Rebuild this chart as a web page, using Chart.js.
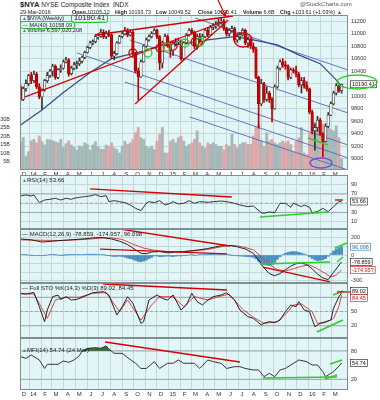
<!DOCTYPE html>
<html>
<head>
<meta charset="utf-8">
<title>$NYA NYSE Composite Index</title>
<script src="https://cdn.jsdelivr.net/npm/chart.js@4.4.1/dist/chart.umd.min.js"></script>
<style>
  html, body { margin: 0; padding: 0; background: #fff; }
  #page { position: relative; width: 380px; height: 400px; overflow: hidden; font-family: "Liberation Sans", Arial, sans-serif; color: #222; }
  canvas { position: absolute; left: 0; }
  .t { position: absolute; white-space: nowrap; font-size: 6px; line-height: 7px; z-index: 5; }
  .r2 { font-size: 5.4px; }
  .t b { font-weight: bold; }
  .box { border: 1.4px solid #2cc52c; border-radius: 3px; }
  .ico { color: #777; font-size: 5px; }
</style>
</head>
<body>
<div id="page">
  <canvas id="cMain" width="380" height="162" style="top:15px"></canvas>
  <canvas id="cRsi" width="380" height="62" style="top:171px"></canvas>
  <canvas id="cMacd" width="380" height="62" style="top:225px"></canvas>
  <canvas id="cSto" width="380" height="63" style="top:279px"></canvas>
  <canvas id="cMfi" width="380" height="64" style="top:334px"></canvas>

  <div class="t" style="left:20px;top:1px;font-size:6.5px"><b style="font-size:7.5px">$NYA</b> NYSE Composite Index &nbsp;INDX</div>
  <div class="t" style="left:300px;top:1px;color:#555">@StockCharts.com</div>
  <div class="t r2" style="left:20px;top:9px">29-Mar-2016</div>
  <div class="t r2" style="left:72px;top:9px"><b>Open</b> 10105.12</div>
  <div class="t r2" style="left:115px;top:9px"><b>High</b> 10193.73</div>
  <div class="t r2" style="left:156px;top:9px"><b>Low</b> 10049.52</div>
  <div class="t r2" style="left:198px;top:9px"><b>Close</b> 10190.41</div>
  <div class="t r2" style="left:243px;top:9px"><b>Volume</b> 6.6B</div>
  <div class="t r2" style="left:280px;top:9px"><b>Chg</b> +103.61 (+1.03%) <span style="color:#2a8a2a">&#9650;</span></div>
  <svg style="position:absolute;left:214px;top:0;z-index:6" width="16" height="18">
    <line x1="4" y1="0" x2="11" y2="15" stroke="#d40000" stroke-width="1.2"/>
    <polyline points="6,11 11,16 13,10" fill="none" stroke="#d40000" stroke-width="1.2"/>
  </svg>

  <div class="t" style="left:22px;top:15px;font-size:5.5px"><span class="ico">&#9650;</span>$NYA (Weekly)</div>
  <div class="t box" style="left:71px;top:13px;font-size:7.5px;line-height:8px;padding:0 2px">10190.41</div>
  <div class="t box" style="left:20px;top:21px;font-size:5.5px;line-height:6px;padding:0 1.5px"><span style="color:#3a4a86">&#8212;</span> MA(40) 10158.09</div>
  <div class="t" style="left:22px;top:27px;font-size:5.5px"><span class="ico">&#9650;</span>Volume 6,597,020,208</div>

  <div class="t" style="left:22px;top:177px"><span class="ico">&#9650;</span>RSI(14) 53.66</div>
  <div class="t" style="left:22px;top:231px"><span>&#8212;</span> MACD(12,26,9) -78.859, -174.957, 96.098</div>
  <div class="t" style="left:22px;top:285px"><span>&#8212;</span> Full STO %K(14,3) %D(3) 89.02, 84.45</div>
  <div class="t" style="left:22px;top:347px"><span class="ico">&#9650;</span>MFI(14) 54.74 (24 Mar)</div>
</div>

<script>
// ---- data (weekly, week 0 = 9 Dec 2013) ----
const monthLabels = ['D','14','F','M','A','M','J','J','A','S','O','N','D','15','F','M','A','M','J','J','A','S','O','N','D','16','F','M'];

const firstOpen = 10150;
const closes = [
  9950, 10120, 10200, 10330, 10250, 10350, 10150, 9990, 10100, 10250,
  10330, 10400, 10480, 10300, 10420, 10450, 10550, 10580, 10360, 10450,
  10500, 10520, 10560, 10620, 10700, 10780, 10850, 10870, 10950, 10960,
  11020, 10950, 11000, 10980, 10640, 10680, 10850, 10950, 11000, 11050,
  10980, 11020, 10680, 10400, 10310, 10550, 10800, 10900, 10950, 11000,
  11050, 10950, 10530, 10850, 10950, 10820, 10720, 10830, 10870, 10880,
  10600, 10850, 10980, 11050, 11020, 10800, 10950, 10880, 10950, 11050,
  10980, 11100, 11120, 11150, 11180, 11200, 11080, 11000, 11050, 11080,
  10900, 10950, 10980, 11050, 10850, 10900, 10800, 10750, 10300, 9880,
  10200, 9950, 10050, 9950, 9800, 10150, 10450, 10550, 10500, 10480,
  10300, 10420, 10400, 10350, 10180, 10250, 10170, 10120, 9750, 9450,
  9500, 9620, 9400, 9280, 9520, 9700, 9880, 10050, 10170, 10090,
  10190.41
];
const highs = [
  10180, 10150, 10260, 10350, 10380, 10400, 10380, 10200, 10120, 10270,
  10380, 10430, 10510, 10500, 10440, 10500, 10580, 10620, 10600, 10480,
  10540, 10560, 10610, 10640, 10720, 10800, 10880, 10900, 10980, 11000,
  11070, 11060, 11040, 11050, 11000, 10720, 10870, 10970, 11030, 11100,
  11080, 11060, 11040, 10700, 10450, 10580, 10820, 10930, 10980, 11030,
  11080, 11070, 10970, 10880, 10990, 10980, 10850, 10870, 10920, 10930,
  10900, 10870, 11000, 11080, 11080, 11040, 10990, 11000, 10990, 11080,
  11100, 11130, 11160, 11190, 11230, 11250, 11230, 11100, 11080, 11120,
  11100, 11000, 11020, 11080, 11070, 10940, 10930, 10850, 10780, 10320,
  10270, 10220, 10150, 10080, 9980, 10180, 10480, 10580, 10600, 10560,
  10500, 10450, 10450, 10480, 10380, 10300, 10300, 10230, 10130, 9780,
  9560, 9680, 9650, 9420, 9560, 9740, 9910, 10080, 10200, 10180,
  10193.73
];
const lows = [
  9920, 9930, 10080, 10170, 10200, 10220, 10120, 9960, 9790, 10080,
  10220, 10300, 10320, 10270, 10280, 10380, 10430, 10530, 10320, 10340,
  10420, 10440, 10490, 10530, 10600, 10690, 10760, 10820, 10850, 10910,
  10940, 10920, 10920, 10950, 10600, 10580, 10660, 10840, 10930, 10980,
  10950, 10960, 10650, 10370, 9940, 10300, 10540, 10780, 10880, 10930,
  10990, 10920, 10420, 10450, 10830, 10780, 10620, 10650, 10800, 10820,
  10570, 10580, 10830, 10960, 10990, 10760, 10750, 10850, 10850, 10930,
  10950, 10970, 11060, 11080, 11120, 11150, 11050, 10960, 10960, 11020,
  10870, 10860, 10900, 10960, 10820, 10780, 10760, 10700, 10280, 9490,
  9850, 9900, 9920, 9900, 9590, 9790, 10130, 10420, 10460, 10430,
  10260, 10280, 10370, 10310, 10150, 10050, 10130, 10080, 9720, 9400,
  9140, 9440, 9380, 9030, 9270, 9500, 9690, 9860, 10020, 10060,
  10049.52
];
// volume in billions
const volume = [
  16.6, 19.2, 8.2, 10.8, 17.2, 18, 16, 20, 16.6, 14.7,
  18, 17.6, 17.2, 16.6, 16, 18, 13.3, 15.5, 17.2, 14.7,
  13.3, 11.8, 14.1, 14, 16, 15, 11.8, 14.7, 16.6, 13.7,
  12.2, 12.2, 14.7, 14, 16, 13, 12, 10, 14, 17,
  15, 16, 18, 22, 25, 19, 18, 14, 13, 14,
  12, 17, 21, 25, 10, 10, 17, 18, 16, 19,
  20, 17, 14, 15, 16, 18, 23, 16, 14, 13,
  16, 15, 16, 15, 14, 14, 12, 15, 14, 21,
  15, 13, 15, 16, 16, 15, 15, 20, 25, 27,
  17, 14, 22, 17, 18, 16, 15, 16, 17, 16,
  17, 15, 11, 17, 19, 25, 10, 9, 22, 25,
  28, 23, 24, 27, 22, 25, 24, 23, 26, 19,
  6.6
];
const maWeeks = [0, 8, 16, 26, 34, 44, 52, 60, 70, 80, 87, 96, 104, 112, 118, 120];
const maValues = [9540, 9780, 10060, 10380, 10600, 10700, 10800, 10830, 10900, 10950, 10900, 10820, 10660, 10520, 10260, 10158.09];

const rsiWeeks = [0,2,4,5,7,9,11,13,15,17,19,20,22,24,26,28,30,32,33,35,37,39,41,43,45,47,48,50,52,54,56,57,59,61,63,65,67,70,72,75,77,80,82,85,87,90,91,93,95,97,99,101,102,105,106,108,109,111,113,115,117,119,120];
const rsiValues = [65.7,67.8,65.7,67.8,51.3,57,58.5,60.6,57,60.6,58.5,60.6,62.8,64.2,65.7,68.6,64.2,66.4,53.4,55.6,53.4,51.3,46.2,39,34,49.8,53.4,51.3,55.6,46.2,49.8,53.4,48.4,49.8,55.6,49.8,53.4,52,53.4,54.8,53.4,49.8,46.2,42.6,44.1,29.6,28.2,31.1,29.6,49.8,49.8,41.2,49.8,42.6,46.2,41.2,29.6,31.8,39,31.8,42.6,53.4,53.66];

const macdWeeks = [0,4,8,12,16,20,24,28,31,34,37,40,43,45,47,49,52,55,58,61,64,67,70,73,76,78,81,84,87,89,91,93,95,97,99,101,103,105,107,109,111,113,115,117,119,120];
const macdValues = [185,175,150,160,170,178,188,200,202,185,160,120,60,20,15,35,40,25,35,40,50,60,75,95,112,110,95,70,20,-60,-150,-215,-240,-215,-170,-130,-100,-95,-110,-160,-220,-265,-285,-200,-120,-78.859];
const signalWeeks = [0,8,16,24,30,34,38,42,46,50,55,60,65,70,75,79,83,87,90,93,96,99,102,105,108,111,114,116,118,120];
const signalValues = [175,170,168,180,195,197,180,125,80,55,40,38,48,65,95,112,95,60,-20,-110,-170,-185,-160,-130,-115,-160,-215,-255,-230,-174.957];
const macdHist = [
  5, 4, 2, 0, -2, -4, -6, -8, -6, -3,
  0, 3, 4, 2, 0, -2, -1, 1, 2, 3,
  3, 4, 5, 6, 8, 9, 10, 10, 9, 8,
  6, 3, -2, -8, -14, -18, -16, -14, -18, -25,
  -35, -42, -50, -62, -75, -78, -70, -58, -42, -28,
  -10, -12, -20, -18, -15, -12, -15, -18, -14, -10,
  -12, -8, -4, 0, 2, -2, 0, 4, 6, 8,
  10, 12, 15, 17, 18, 14, 10, 6, 2, -2,
  -6, -10, -12, -14, -18, -20, -22, -28, -45, -75,
  -95, -110, -118, -120, -110, -85, -50, -20, 5, 20,
  30, 38, 40, 38, 30, 22, 12, 0, -20, -40,
  -55, -65, -62, -55, -40, -15, 15, 45, 70, 85,
  96.098
];

const stoKWeeks = [0,2,5,7,9,10,12,14,15,17,19,21,23,25,27,31,33,36,38,40,42,45,46,48,51,53,55,57,60,62,64,66,68,70,72,75,77,80,82,85,87,90,91,93,95,97,99,101,103,104,106,108,110,112,114,116,117,119,120];
const stoKValues = [88.4,87,90,60.3,28.7,53.3,81.3,84.8,75.6,81.3,74.3,75.6,79.8,84.8,89.7,91.9,84.8,42.7,60.3,81.3,67.3,25.2,28.7,74.3,84.8,77.8,74.3,84.8,53.3,63.8,88.4,70.8,63.8,74.3,81.3,84.8,89.7,74.3,53.3,39.2,35.7,21.7,25.2,28.7,26.6,32.2,49.7,63.8,60.3,70.8,53.3,49.7,18.2,25.2,28.7,32.2,56.8,81.3,89.02];
const stoDWeeks = [0,5,7,10,13,17,22,27,32,37,40,45,49,52,57,61,65,70,75,78,83,87,91,96,100,102,105,109,111,114,117,119,120];
const stoDValues = [87,87,67,35.7,74.3,80,80,88.4,90,49.7,74.3,32.2,63.8,81.3,81.3,60.3,81.3,74.3,82.7,86.6,54.6,37.8,25.2,28.7,49.7,63.8,66,49.7,25.2,26.6,35.7,60.3,84.45];

const mfiWeeks = [0,2,4,7,9,10,14,16,18,20,22,23,25,28,30,32,33,35,38,40,43,45,47,50,52,55,57,59,61,65,67,70,72,75,77,80,82,84,87,89,91,93,95,97,99,101,103,104,107,109,111,113,114,116,117,119,120];
const mfiValues = [68,64.5,71.5,61,43,51.8,51.8,58.8,56,61,70,80,85.6,87,85.6,90.6,84.2,75,75,66,54,43,43,57.4,43,54,54,61,54,54,43,61,57.4,54,43,46.8,46.8,43,39.8,39.8,25.6,32.7,25.6,39.8,43,50.3,57.4,61,57.4,50.3,50.3,36.2,25.6,32.7,36.2,48,54.74];

// tick values
const priceTicks = [9000, 9200, 9400, 9600, 9800, 10000, 10200, 10400, 10600, 10800, 11000, 11200];
const volTicks = [5, 10, 15, 20, 25, 30];
const rsiTicks = [10, 30, 50, 70, 90];
const macdTicks = [-300, -200, -100, 0, 100, 200];
const stoTicks = [20, 50, 80];
const mfiTicks = [20, 80];
const rsiLevels = [30, 50, 70];
const stoLevels = [20, 50, 80];
const mfiLevels = [20, 80];

// hand-drawn annotations: [week1, value1, week2, value2]
const priceRedLines = [[1.7, 9988, 76.4, 11200], [27.8, 10977, 79.4, 11280], [42.8, 9876, 77.6, 11216]];
const priceBlueLines = [[65.2, 11248, 122.4, 10418], [40.9, 10897, 122.4, 9733], [21.1, 10690, 122.4, 9222], [39.0, 10227, 122.4, 9015], [63.3, 9669, 122.4, 8823]];
const priceGreenLines = [[107.4, 9334, 114.9, 9222]];
const redRings = [[42.0, 10690], [52.1, 10769], [57.0, 10801], [65.2, 10865]];
const greenRings = [[47.6, 10690], [54.7, 10785], [61.5, 10849], [67.1, 10865]];
const ovals = [[83.2, 10897], [125.8, 10227], [112.3, 8935]];
const rsiRed = [[26.0, 80.8, 79.0, 63.5], [117.5, 57, 120.5, 57]];
const rsiGreen = [[89.5, 20.3, 114.9, 31.1]];
const macdRed = [[37.2, 300, 78.3, 104], [29.7, 69, 77.2, 12], [90.6, -139, 115.7, -312]];
const macdGreen = [[89.5, -104, 115.7, -81], [117.5, 81, 122, 139], [118.3, -81, 120.5, -23]];
const stoRed = [[30.8, 108, 77.2, 95.4], [118.3, 91.2, 128, 91.2]];
const stoGreen = [[110.8, 7, 120.5, 32.2], [116.8, 84.8, 120.5, 93.3]];
const mfiRed = [[31.6, 99, 82.0, 56.7]];
const mfiGreen = [[90.6, 22.8, 118.3, 24.9], [115.7, 52.5, 120.2, 61], [113.8, 20.7, 118.3, 29.2]];

// ---- setup ----
const FONT = '"Liberation Sans", Arial, sans-serif';
const BG = '#e2f5f7';
const GRID = '#c4d7db';
const RED = '#d40000';
const GREEN = '#2ecc2e';
const LEVEL = '#8d9ea3';
const xMin = -0.21, xMax = 122.4;
const week0 = Date.UTC(2013, 11, 9);
const monthTicks = monthLabels.map((_, m) => Math.max(xMin, (Date.UTC(2013, 11 + m, 1) - week0) / 604800000));

const weeks = closes.map((_, i) => i);
const opens = closes.map((c, i) => (i ? closes[i - 1] : firstOpen));
const isUp = weeks.map(i => closes[i] >= opens[i]);

function noPad(s) { s.paddingTop = s.paddingBottom = s.paddingLeft = s.paddingRight = 0; }

function line(ws, vals, color, width, extra) {
  return Object.assign({
    type: 'line', data: ws.map((w, i) => ({ x: w, y: vals[i] })),
    borderColor: color, borderWidth: width, pointRadius: 0, tension: 0, fill: false
  }, extra);
}
function seg(s, color, width, extra) { return line([s[0], s[2]], [s[1], s[3]], color, width, extra); }
function levels(list, color) {
  return list.map(v => seg([xMin, v, xMax, v], color, 0.8, { borderDash: v === 50 ? [3, 2] : [], order: 8 }));
}

function xAxis(show, h) {
  return {
    type: 'linear', min: xMin, max: xMax, bounds: 'data', offset: false,
    afterBuildTicks: s => { s.ticks = monthTicks.map(v => ({ value: v })); },
    afterFit: s => { noPad(s); s.height = h; },
    grid: { color: GRID, drawTicks: false, offset: false },
    border: { display: false },
    ticks: { display: show, autoSkip: false, maxRotation: 0, padding: 1, labelOffset: 4,
      font: { size: 6, family: FONT }, color: '#333', callback: (v, i) => monthLabels[i] }
  };
}
function yAxis(min, max, ticks, label) {
  return {
    position: 'right', min, max, bounds: 'data',
    afterBuildTicks: s => { s.ticks = ticks.map(v => ({ value: v })); },
    afterFit: s => { noPad(s); s.width = 32; },
    grid: { color: GRID, drawTicks: false },
    border: { display: false },
    ticks: { padding: 3, font: { size: 5.5, family: FONT }, color: '#333', callback: label || (v => String(v)) }
  };
}

const panelBg = {
  id: 'panelBg',
  beforeDraw(chart) {
    const { ctx, chartArea: a } = chart;
    ctx.save();
    ctx.fillStyle = BG;
    ctx.fillRect(a.left, a.top, a.width, a.height);
    ctx.restore();
  },
  afterDatasetsDraw(chart) {
    const { ctx, chartArea: a } = chart;
    ctx.save();
    ctx.strokeStyle = '#7f9095';
    ctx.lineWidth = 1;
    ctx.strokeRect(a.left + 0.5, a.top + 0.5, a.width - 1, a.height - 1);
    ctx.restore();
  }
};

// value boxes on the right axis
const boxes = list => ({
  id: 'boxes',
  afterDraw(chart) {
    const { ctx, chartArea: a } = chart;
    ctx.save();
    ctx.font = '5.5px ' + FONT;
    ctx.textBaseline = 'middle';
    list.forEach(b => {
      const y = chart.scales[b.axis].getPixelForValue(b.v) + (b.dy || 0);
      const w = ctx.measureText(b.text).width + 3;
      ctx.fillStyle = '#fff';
      ctx.fillRect(a.right + 2, y - 3.5, w, 7);
      ctx.strokeStyle = b.color;
      ctx.lineWidth = 0.6;
      ctx.strokeRect(a.right + 2.5, y - 3.5, w, 7);
      ctx.fillStyle = b.color;
      ctx.fillText(b.text, a.right + 4, y + 0.3);
    });
    ctx.restore();
  }
});

// circles and ellipses drawn on the price chart
const ovalStyle = [{ rx: 9, ry: 7, c: RED }, { rx: 20, ry: 7, c: GREEN }, { rx: 11, ry: 5, c: '#8a3fd0' }];
const rings = {
  id: 'rings',
  afterDraw(chart) {
    const { ctx } = chart;
    const sx = chart.scales.x, sy = chart.scales.y;
    const draw = (w, v, rx, ry, c) => {
      ctx.beginPath();
      ctx.ellipse(sx.getPixelForValue(w), sy.getPixelForValue(v), rx, ry, 0, 0, Math.PI * 2);
      ctx.strokeStyle = c;
      ctx.lineWidth = 1.3;
      ctx.stroke();
    };
    ctx.save();
    redRings.forEach(r => draw(r[0], r[1], 4, 4, RED));
    greenRings.forEach(r => draw(r[0], r[1], 4, 4, GREEN));
    ovals.forEach((o, i) => draw(o[0], o[1], ovalStyle[i].rx, ovalStyle[i].ry, ovalStyle[i].c));
    ctx.restore();
  }
};

const common = extra => Object.assign({
  responsive: false, animation: false, devicePixelRatio: 1, events: [],
  plugins: { legend: { display: false }, tooltip: { enabled: false } }
}, extra);

// ---- price + volume ----
new Chart(document.getElementById('cMain'), {
  type: 'bar',
  data: {
    datasets: [
      ...priceRedLines.map(s => seg(s, RED, 1.3, { order: 1 })),
      ...priceGreenLines.map(s => seg(s, GREEN, 1.5, { order: 1 })),
      {
        type: 'bar', data: weeks.map(i => ({ x: i, y: [opens[i], closes[i]] })),
        backgroundColor: weeks.map(i => (isUp[i] ? '#ffffff' : '#d40000')),
        borderColor: weeks.map(i => (isUp[i] ? '#333333' : '#a00000')),
        borderWidth: 0.7, borderSkipped: false, barThickness: 2.6, grouped: false, order: 2
      },
      {
        type: 'bar', data: weeks.map(i => ({ x: i, y: [lows[i], highs[i]] })),
        backgroundColor: weeks.map(i => (isUp[i] ? '#333333' : '#c00000')),
        barThickness: 1, grouped: false, order: 3
      },
      line(maWeeks, maValues, '#3a4a86', 1.2, { order: 4 }),
      ...priceBlueLines.map(s => seg(s, '#5565c0', 0.9, { order: 5 })),
      {
        type: 'bar', yAxisID: 'yv', data: weeks.map(i => ({ x: i, y: volume[i] })),
        backgroundColor: weeks.map(i => (isUp[i] ? '#a5b8b8' : '#dba6a8')),
        barThickness: 2.2, grouped: false, order: 9
      }
    ]
  },
  options: common({
    layout: { padding: 0 },
    scales: {
      x: xAxis(true, 7),
      y: yAxis(8823, 11296, priceTicks),
      yv: {
        position: 'left', min: 0, max: 91.2, bounds: 'data',
        afterBuildTicks: s => { s.ticks = volTicks.map(v => ({ value: v })); },
        afterFit: s => { noPad(s); s.width = 20; },
        grid: { display: false }, border: { display: false },
        ticks: { padding: 2, font: { size: 5.5, family: FONT }, color: '#333', callback: v => v + 'B' }
      }
    }
  }),
  plugins: [panelBg, boxes([{ axis: 'y', v: 10190.41, text: '10190.41', color: '#111' }]), rings]
});

// ---- RSI ----
new Chart(document.getElementById('cRsi'), {
  type: 'line',
  data: {
    datasets: [
      ...rsiRed.map(s => seg(s, RED, 1.3, { order: 1 })),
      ...rsiGreen.map(s => seg(s, GREEN, 1.5, { order: 1 })),
      line(rsiWeeks, rsiValues, '#222', 0.9, { order: 2 }),
      ...levels(rsiLevels, LEVEL)
    ]
  },
  options: common({
    layout: { padding: { top: 4, bottom: 4, left: 20 } },
    scales: { x: xAxis(false, 0), y: yAxis(-5.7, 111, rsiTicks, v => (v === 50 ? '' : String(v))) }
  }),
  plugins: [panelBg, boxes([{ axis: 'y', v: 53.66, text: '53.66', color: '#111' }])]
});

// ---- MACD ----
new Chart(document.getElementById('cMacd'), {
  type: 'bar',
  data: {
    datasets: [
      ...macdRed.map(s => seg(s, RED, 1.3, { order: 1 })),
      ...macdGreen.map(s => seg(s, GREEN, 1.5, { order: 1 })),
      line(macdWeeks, macdValues, '#111', 0.9, { order: 2 }),
      line(signalWeeks, signalValues, '#e03030', 0.9, { order: 3 }),
      {
        type: 'bar', data: weeks.map(i => ({ x: i, y: macdHist[i] })),
        backgroundColor: '#4a8dbf', barThickness: 2.2, grouped: false, order: 6
      }
    ]
  },
  options: common({
    layout: { padding: { top: 4, bottom: 4, left: 20 } },
    scales: {
      x: xAxis(false, 0),
      y: yAxis(-323.7, 300.6, macdTicks, v => ([200, 0, -300].includes(v) ? String(v) : ''))
    }
  }),
  plugins: [panelBg, boxes([
    { axis: 'y', v: 96.098, text: '96.098', color: '#2a6f9f' },
    { axis: 'y', v: -78.859, text: '-78.859', color: '#111' },
    { axis: 'y', v: -174.957, text: '-174.957', color: '#d01010' }
  ])]
});

// ---- Full Stochastics ----
new Chart(document.getElementById('cSto'), {
  type: 'line',
  data: {
    datasets: [
      ...stoRed.map(s => seg(s, RED, 1.3, { order: 1, clip: false })),
      ...stoGreen.map(s => seg(s, GREEN, 1.5, { order: 1 })),
      line(stoKWeeks, stoKValues, '#111', 0.9, { order: 2 }),
      line(stoDWeeks, stoDValues, '#e03030', 0.9, { order: 3 }),
      ...levels(stoLevels, LEVEL)
    ]
  },
  options: common({
    layout: { padding: { top: 4, bottom: 4, left: 20 } },
    scales: { x: xAxis(false, 0), y: yAxis(-5.7, 110.1, stoTicks, v => (v === 80 ? '' : String(v))) }
  }),
  plugins: [panelBg, boxes([
    { axis: 'y', v: 89.02, text: '89.02', color: '#111', dy: -2 },
    { axis: 'y', v: 84.45, text: '84.45', color: '#d01010', dy: 3 }
  ])]
});

// ---- MFI ----
new Chart(document.getElementById('cMfi'), {
  type: 'line',
  data: {
    datasets: [
      ...mfiRed.map(s => seg(s, RED, 1.3, { order: 1 })),
      ...mfiGreen.map(s => seg(s, GREEN, 1.5, { order: 1 })),
      line(mfiWeeks, mfiValues, '#222', 0.9, {
        order: 2, fill: { target: { value: 80 }, above: '#3f6e40', below: 'rgba(0,0,0,0)' }
      }),
      ...levels(mfiLevels, LEVEL)
    ]
  },
  options: common({
    layout: { padding: { top: 4, bottom: 0, left: 20 } },
    scales: { x: xAxis(true, 8), y: yAxis(-2.6, 107.5, mfiTicks) }
  }),
  plugins: [panelBg, boxes([{ axis: 'y', v: 54.74, text: '54.74', color: '#111' }])]
});
</script>
</body>
</html>
